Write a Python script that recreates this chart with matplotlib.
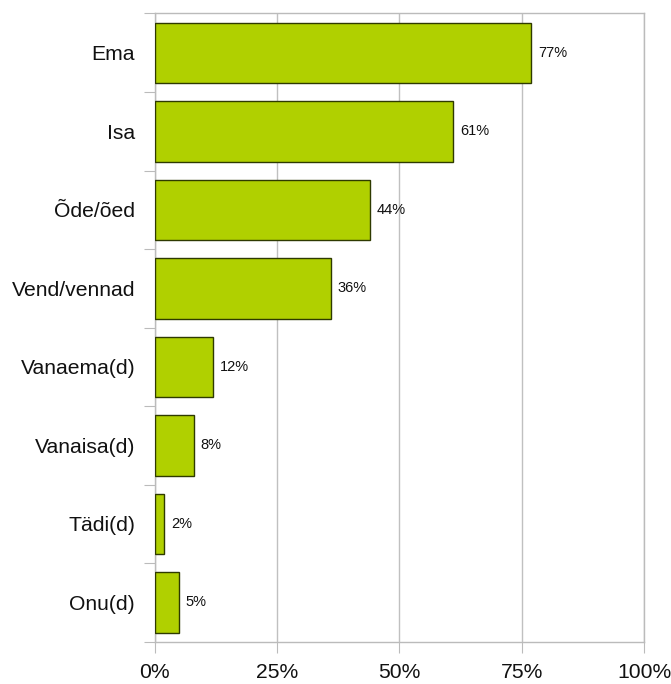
import matplotlib
matplotlib.use("Agg")
import matplotlib.pyplot as plt
from matplotlib.ticker import FixedLocator, PercentFormatter

plt.rcParams['font.family'] = ['Liberation Sans', 'DejaVu Sans']

categories = ["Ema", "Isa", "Õde/õed", "Vend/vennad", "Vanaema(d)", "Vanaisa(d)", "Tädi(d)", "Onu(d)"]
values = [77, 61, 44, 36, 12, 8, 2, 5]
xticks = [0, 25, 50, 75, 100]

fig = plt.figure(figsize=(6.71, 6.84), dpi=100)
ax = fig.add_axes([0.2303, 0.0618, 0.7295, 0.9185])

n = len(categories)
ys = list(range(n))
ax.barh(ys, values, height=0.77, color="#b0d000", edgecolor="#2e3a00", linewidth=1.0, zorder=3)
ax.set_ylim(n - 0.5, -0.5)
ax.set_xlim(0, 100)

for y, v in zip(ys, values):
    ax.annotate(f"{v}%", xy=(v, y), xytext=(5, 0), textcoords="offset points",
                va="center", ha="left", fontsize=10.5, color="#111111")

ax.set_xticks(xticks)
ax.xaxis.set_major_formatter(PercentFormatter(decimals=0))
ax.tick_params(axis="x", length=8, color="#bbbbbb", labelsize=15.2, pad=7, labelcolor="#111111")
ax.grid(axis="x", color="#c0c0c0", linewidth=1.0, zorder=0)

ax.yaxis.set_major_locator(FixedLocator([i - 0.5 for i in range(n + 1)]))
ax.yaxis.set_minor_locator(FixedLocator(ys))
ax.set_yticklabels([""] * (n + 1))
ax.set_yticklabels(categories, minor=True)
ax.tick_params(axis="y", which="major", length=8, color="#bbbbbb")
ax.tick_params(axis="y", which="minor", length=0, labelsize=15.2, pad=14, labelcolor="#111111")

for s in ax.spines.values():
    s.set_color("#bbbbbb")
    s.set_linewidth(1.0)

fig.savefig("out.png", dpi=100)
